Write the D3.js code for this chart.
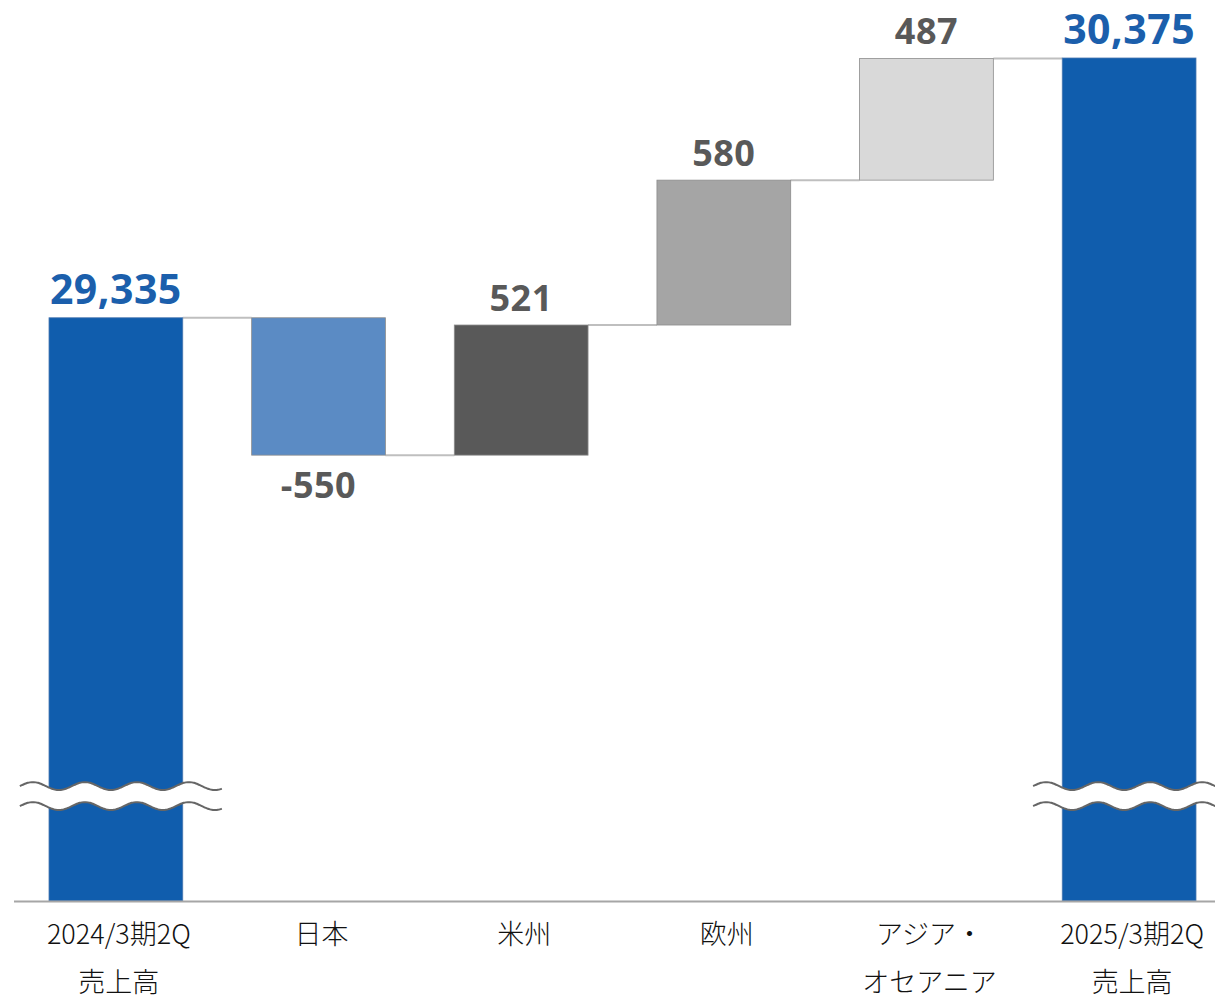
<!DOCTYPE html>
<meta charset="utf-8">
<body style="margin:0;background:#fff">
<script src="https://d3js.org/d3.v7.min.js"></script>
<div id="chart"></div>
<script>
// data
var categories = ["2024/3期2Q\n売上高", "日本", "米州", "欧州", "アジア・\nオセアニア", "2025/3期2Q\n売上高"];
var kinds = ["total", "delta", "delta", "delta", "delta", "total"];
var values = [29335, -550, 521, 580, 487, 30375];
var valueLabels = ["29,335", "-550", "521", "580", "487", "30,375"];
var colors = ["#105dad", "#5b8bc4", "#595959", "#a5a5a5", "#d9d9d9", "#105dad"];

var width = 1215, height = 999;
var svg = d3.select("#chart").append("svg")
    .attr("width", width)
    .attr("height", height);

// build waterfall rows
var run = 0;
var rows = categories.map(function (c, i) {
    var start, end;
    if (kinds[i] == "total") { start = 27000; end = values[i]; run = values[i]; }
    else { start = run; end = run + values[i]; run = end; }
    return { cat: c, start: start, end: end, v: values[i], label: valueLabels[i], color: colors[i], kind: kinds[i] };
});

var x = d3.scaleBand()
    .domain(categories)
    .range([49, 1196])
    .paddingInner(0.34)
    .paddingOuter(0);

// axis broken below ~27,400; baseline stands for 27,000
var y = d3.scaleLinear()
    .domain([27000, 30375])
    .range([901, 58]);

// connectors
for (var i = 0; i < rows.length - 1; i++) {
    var lvl = rows[i].end;
    svg.append("line")
        .attr("x1", x(rows[i].cat) + x.bandwidth())
        .attr("x2", x(rows[i + 1].cat))
        .attr("y1", y(lvl))
        .attr("y2", y(lvl))
        .attr("stroke", "#bfbfbf")
        .attr("stroke-width", 2);
}

// bars
svg.selectAll("rect.bar")
    .data(rows)
    .join("rect")
    .attr("class", "bar")
    .attr("x", d => x(d.cat))
    .attr("y", d => y(Math.max(d.start, d.end)))
    .attr("width", x.bandwidth())
    .attr("height", d => Math.abs(y(d.start) - y(d.end)))
    .attr("fill", d => d.color)
    .attr("stroke", d => d.kind == "total" ? "#4a78b0" : "#8c8c8c")
    .attr("stroke-width", 0.8);

// baseline
svg.append("line")
    .attr("x1", 14).attr("x2", 1215)
    .attr("y1", 901.5).attr("y2", 901.5)
    .attr("stroke", "#a6a6a6")
    .attr("stroke-width", 2);

// break marks on total bars
function wave(x0, x1, yy) {
    var pts = [];
    for (var px = x0; px <= x1; px += 2) {
        pts.push([px, yy - 4 * Math.sin((px - x0) / 52 * 2 * Math.PI)]);
    }
    return pts;
}
var breakY = 27420;
[0, 5].forEach(function (i) {
    var cx = x(categories[i]) + x.bandwidth() / 2;
    var x0 = cx - 96, x1 = cx + 106;
    var top = wave(x0, x1, y(breakY) - 10);
    var bot = wave(x0, x1, y(breakY) + 10);
    var area = top.concat(bot.slice().reverse());
    svg.append("path")
        .attr("d", d3.line()(area) + "Z")
        .attr("fill", "#fff");
    [top, bot].forEach(function (p) {
        svg.append("path")
            .attr("d", d3.line().curve(d3.curveBasis)(p))
            .attr("fill", "none")
            .attr("stroke", "#666")
            .attr("stroke-width", 2);
    });
});

// value labels
svg.selectAll("text.val")
    .data(rows)
    .join("text")
    .attr("class", "val")
    .attr("x", d => x(d.cat) + x.bandwidth() / 2)
    .attr("y", d => d.v < 0 ? y(d.end) + 43 : y(Math.max(d.start, d.end)) - 14)
    .attr("text-anchor", "middle")
    .attr("font-family", "'Open Sans', sans-serif")
    .attr("font-weight", "bold")
    .attr("font-size", d => d.kind == "total" ? 41 : 36)
    .attr("letter-spacing", d => d.kind == "total" ? 0.5 : 0.5)
    .attr("fill", d => d.kind == "total" ? "#1b5fac" : "#595959")
    .text(d => d.label);

// category labels
var lab = svg.selectAll("text.cat")
    .data(rows)
    .join("text")
    .attr("class", "cat")
    .attr("text-anchor", "middle")
    .attr("font-family", "'Noto Sans CJK JP', sans-serif")
    .attr("font-weight", 300)
    .attr("font-size", 27)
    .attr("fill", "#111");
lab.each(function (d) {
    var t = d3.select(this);
    d.cat.split("\n").forEach(function (s, k) {
        t.append("tspan")
            .attr("x", x(d.cat) + x.bandwidth() / 2 + 3)
            .attr("y", 944 + k * 48)
            .text(s);
    });
});
</script>
</body>
